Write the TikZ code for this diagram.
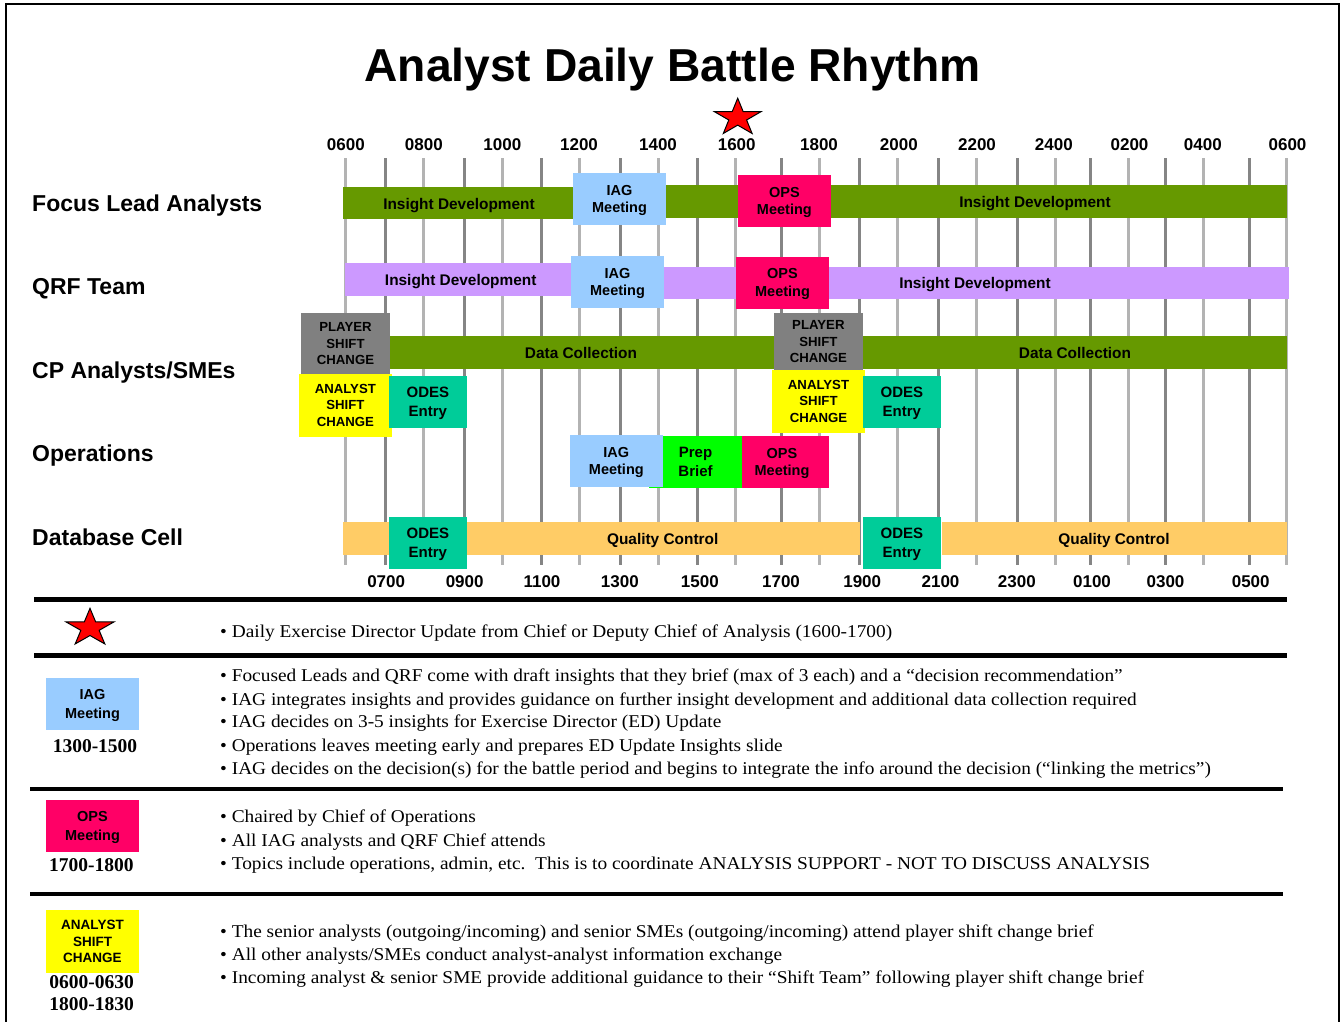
\documentclass[tikz,border=0pt]{standalone}
\usepackage{fontspec}
\setmainfont{Liberation Serif}
\setsansfont{Liberation Sans}
\newfontfamily\notefont{Liberation Serif}[FakeStretch=1.075]

\definecolor{barGreen}{HTML}{669900}
\definecolor{barPurple}{HTML}{CC99FF}
\definecolor{iagBlue}{HTML}{99CCFF}
\definecolor{opsPink}{HTML}{FF0066}
\definecolor{shiftGray}{HTML}{808080}
\definecolor{shiftYellow}{HTML}{FFFF00}
\definecolor{odesTeal}{HTML}{00CC99}
\definecolor{prepGreen}{HTML}{00FF00}
\definecolor{qcOrange}{HTML}{FFCC66}
\definecolor{gridLight}{HTML}{B3B3B3}
\definecolor{gridDark}{HTML}{858585}

% block: name, x1, y1, x2, y2 (top-left / bottom-right), style, text
\newcommand\blk[7]{\node[blk,#6,minimum width={#4-#2},minimum height={#5-#3}] (#1) at (#2,#3) {#7};}
% five-pointed star: centre x, centre y, horizontal radius, vertical radius
\newcommand\redstar[4]{\draw[starline] plot[samples at={0,...,9}, variable=\t]
  ({#1+(1-0.618*mod(\t,2))*#3*cos(90+36*\t)}, {#2-(1-0.618*mod(\t,2))*#4*sin(90+36*\t)}) -- cycle;}

\begin{document}
\begin{tikzpicture}[x=1pt,y=-1pt,
  blk/.style={anchor=north west, inner sep=0pt, outer sep=0pt, align=center, text depth=0pt},
  meet/.style={font=\sffamily\bfseries\fontsize{14.5}{17.6}\selectfont},
  odes/.style={font=\sffamily\bfseries\fontsize{15}{19}\selectfont},
  shiftbox/.style={font=\sffamily\bfseries\fontsize{13.2}{16.2}\selectfont},
  bartext/.style={anchor=base, inner sep=0pt, font=\sffamily\bfseries\fontsize{15.4}{18}\selectfont},
  hour/.style={anchor=base, inner sep=0pt, font=\sffamily\bfseries\fontsize{17}{20}\selectfont},
  rowlabel/.style={anchor=base west, inner sep=0pt, font=\sffamily\bfseries\fontsize{23}{26}\selectfont},
  gridlight/.style={line width=3pt, gridLight},
  griddark/.style={line width=3pt, gridDark},
  rule/.style={line width=4.5pt, black},
  starline/.style={fill=red, draw=black, line width=1pt, line join=miter},
  bullet/.style={anchor=base west, inner sep=0pt, font=\notefont\fontsize{18}{20}\selectfont},
  legmeet/.style={font=\sffamily\bfseries\fontsize{14.5}{19.3}\selectfont},
  legshift/.style={font=\sffamily\bfseries\fontsize{13.5}{16.3}\selectfont},
  legtime/.style={anchor=base, inner sep=0pt, font=\bfseries\fontsize{19.5}{22}\selectfont}]

\useasboundingbox (0,0) rectangle (1341,1022);
\fill[white] (0,0) rectangle (1341,1022);

% outer frame (open at the bottom)
\draw[line width=2pt, line join=miter] (6,1022) -- (6,4.5) -- (1339.3,4.5) -- (1339.3,1022);

% title
\node[anchor=base, inner sep=0pt, font=\sffamily\bfseries\fontsize{46.2}{52}\selectfont] (title) at (672.5,81.7) {Analyst Daily Battle Rhythm};

% hour grid
\foreach \x in {345,423.3,502.3,579.3,658,735.3,819,897.3,976.3,1055,1128.3,1203.3,1286.7}
  \draw[gridlight] (\x,158) -- (\x,565);
\foreach \x in {385.7,464,541.3,620,697.3,781,859.3,938.7,1017.3,1090.3,1165.7,1249.3}
  \draw[griddark] (\x,158) -- (\x,565);

% hour labels
\foreach \x/\h [count=\i] in {345.8/0600,423.8/0800,502.3/1000,579/1200,658/1400,736.7/1600,819/1800,898.8/2000,977/2200,1053.8/2400,1129.5/0200,1202.8/0400,1287.5/0600}
  \node[hour] (top\i) at (\x,150.5) {\h};
\foreach \x/\h [count=\i] in {386.2/0700,464.7/0900,542/1100,619.8/1300,699.8/1500,781/1700,862.2/1900,940.5/2100,1016.8/2300,1092/0100,1165.5/0300,1250.7/0500}
  \node[hour] (bot\i) at (\x,587.8) {\h};

% daily exercise director update marker
\redstar{737.7}{117.7}{24.5}{19.5}

% row labels
\node[rowlabel] (rowFocus) at (32,211.7) {Focus Lead Analysts};
\node[rowlabel] (rowQRF) at (32,294) {QRF Team};
\node[rowlabel] (rowCP) at (32,378) {CP Analysts/SMEs};
\node[rowlabel] (rowOps) at (32,461.7) {Operations};
\node[rowlabel] (rowDB) at (32,545) {Database Cell};

% Focus Lead Analysts
\blk{fl1}{343}{187}{575}{219}{fill=barGreen}{}
\blk{fl2}{665}{185}{738}{218}{fill=barGreen}{}
\blk{fl3}{831}{185}{1287}{218}{fill=barGreen}{}
\blk{fiag}{573.3}{173.3}{665.7}{224.7}{fill=iagBlue,meet}{IAG\\Meeting}
\blk{fops}{737.7}{175}{831}{226.7}{fill=opsPink,meet}{OPS\\Meeting}
\node[bartext] (fl1t) at (459,209.3) {Insight Development};
\node[bartext] (fl3t) at (1035,207.3) {Insight Development};

% QRF Team
\blk{q1}{345}{263.3}{573}{295.7}{fill=barPurple}{}
\blk{q2}{664}{266.7}{736}{299.3}{fill=barPurple}{}
\blk{q3}{829}{266.7}{1288.7}{299.3}{fill=barPurple}{}
\blk{qiag}{571}{256}{664}{307.7}{fill=iagBlue,meet}{IAG\\Meeting}
\blk{qops}{736}{256.7}{829}{308.7}{fill=opsPink,meet}{OPS\\Meeting}
\node[bartext] (q1t) at (460.7,285.7) {Insight Development};
\node[bartext] (q3t) at (975,288.3) {Insight Development};

% CP Analysts/SMEs
\blk{cd1}{390}{336}{774}{369}{fill=barGreen}{}
\blk{cd2}{862.7}{336}{1287}{369}{fill=barGreen}{}
\node[bartext] (cd1t) at (581,358.3) {Data Collection};
\node[bartext] (cd2t) at (1075,358.3) {Data Collection};
\blk{cp1}{301}{313.3}{390}{374}{fill=shiftGray,shiftbox}{PLAYER\\SHIFT\\CHANGE}
\blk{cp2}{774}{313.3}{862.7}{370}{fill=shiftGray,shiftbox}{PLAYER\\SHIFT\\CHANGE}
\blk{ca1}{299}{374}{391.7}{436.7}{fill=shiftYellow,shiftbox}{ANALYST\\SHIFT\\CHANGE}
\blk{ca2}{772}{370}{865}{432.7}{fill=shiftYellow,shiftbox}{ANALYST\\SHIFT\\CHANGE}
\blk{co1}{389}{376}{466.7}{427.7}{fill=odesTeal,odes}{ODES\\Entry}
\blk{co2}{862.7}{376}{941}{427.7}{fill=odesTeal,odes}{ODES\\Entry}

% Operations (later blocks overlap earlier ones)
\blk{oops}{735}{436}{829}{487.7}{fill=opsPink,meet}{OPS\\Meeting}
\blk{oprep}{649}{436}{742}{487.7}{fill=prepGreen,odes}{Prep\\Brief}
\blk{oiag}{570}{435}{662.7}{486.7}{fill=iagBlue,meet}{IAG\\Meeting}

% Database Cell
\blk{db1}{343.3}{522}{390}{555}{fill=qcOrange}{}
\blk{db2}{466.7}{522}{860}{555}{fill=qcOrange}{}
\blk{db3}{942}{522}{1287}{555}{fill=qcOrange}{}
\node[bartext] (db2t) at (662.7,544.3) {Quality Control};
\node[bartext] (db3t) at (1114,544.3) {Quality Control};
\blk{do1}{389}{517}{466.7}{568.7}{fill=odesTeal,odes}{ODES\\Entry}
\blk{do2}{862.7}{517}{941}{568.7}{fill=odesTeal,odes}{ODES\\Entry}

% legend separators
\draw[rule] (34,599.5) -- (1286.7,599.5);
\draw[rule] (34,655.5) -- (1286.7,655.5);
\draw[rule] (30,789) -- (1282.7,789);
\draw[rule] (30,894) -- (1282.7,894);

% legend: director update
\redstar{90}{628}{25.2}{19.7}
\node[bullet] (b1) at (220,637.3) {• Daily Exercise Director Update from Chief or Deputy Chief of Analysis (1600-1700)};

% legend: IAG meeting
\blk{liag}{46}{678.3}{139}{730}{fill=iagBlue,legmeet}{IAG\\Meeting}
\node[legtime] (liagt) at (95,752.7) {1300-1500};
\node[bullet] (b2) at (220,681.7) {• Focused Leads and QRF come with draft insights that they brief (max of 3 each) and a “decision recommendation”};
\node[bullet] (b3) at (220,705) {• IAG integrates insights and provides guidance on further insight development and additional data collection required};
\node[bullet] (b4) at (220,727.7) {• IAG decides on 3-5 insights for Exercise Director (ED) Update};
\node[bullet] (b5) at (220,751.7) {• Operations leaves meeting early and prepares ED Update Insights slide};
\node[bullet] (b6) at (220,774.3) {• IAG decides on the decision(s) for the battle period and begins to integrate the info around the decision (“linking the metrics”)};

% legend: OPS meeting
\blk{lops}{46}{800}{139}{851.7}{fill=opsPink,legmeet}{OPS\\Meeting}
\node[legtime] (lopst) at (91.3,871.7) {1700-1800};
\node[bullet] (b7) at (220,822.3) {• Chaired by Chief of Operations};
\node[bullet] (b8) at (220,846) {• All IAG analysts and QRF Chief attends};
\node[bullet] (b9) at (220,869.3) {• Topics include operations, admin, etc.\ \ This is to coordinate ANALYSIS SUPPORT - NOT TO DISCUSS ANALYSIS};

% legend: analyst shift change
\blk{lan}{46}{910}{139}{972.7}{fill=shiftYellow,legshift}{ANALYST\\SHIFT\\CHANGE}
\node[legtime] (lant1) at (91.7,988.3) {0600-0630};
\node[legtime] (lant2) at (91.7,1010.7) {1800-1830};
\node[bullet] (b10) at (220,937.3) {• The senior analysts (outgoing/incoming) and senior SMEs (outgoing/incoming) attend player shift change brief};
\node[bullet] (b11) at (220,960) {• All other analysts/SMEs conduct analyst-analyst information exchange};
\node[bullet] (b12) at (220,983.3) {• Incoming analyst \& senior SME provide additional guidance to their “Shift Team” following player shift change brief};

\end{tikzpicture}
\end{document}
